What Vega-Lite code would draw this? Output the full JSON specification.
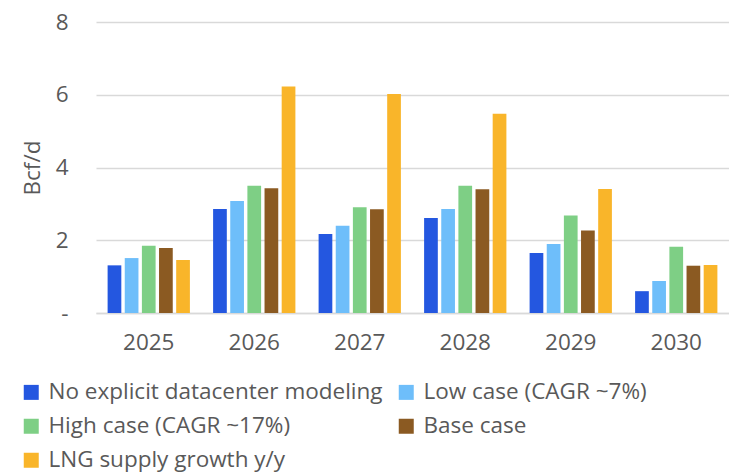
{
  "$schema": "https://vega.github.io/schema/vega-lite/v6.json",
  "width": 633,
  "height": 291,
  "autosize": "none",
  "padding": {"left": 96, "top": 22, "right": 0, "bottom": 160},
  "background": "white",
  "config": {
    "font": "Open Sans",
    "view": {"stroke": null},
    "axis": {"labelFont": "Open Sans", "titleFont": "Open Sans", "labelColor": "#595959", "titleColor": "#595959"}
  },
  "data": {
    "values": [
      {"year": "2025", "series": "No explicit datacenter modeling", "value": 1.31},
      {"year": "2025", "series": "Low case (CAGR ~7%)", "value": 1.51},
      {"year": "2025", "series": "High case (CAGR ~17%)", "value": 1.85},
      {"year": "2025", "series": "Base case", "value": 1.79},
      {"year": "2025", "series": "LNG supply growth y/y", "value": 1.46},
      {"year": "2026", "series": "No explicit datacenter modeling", "value": 2.86},
      {"year": "2026", "series": "Low case (CAGR ~7%)", "value": 3.08},
      {"year": "2026", "series": "High case (CAGR ~17%)", "value": 3.5},
      {"year": "2026", "series": "Base case", "value": 3.43},
      {"year": "2026", "series": "LNG supply growth y/y", "value": 6.23},
      {"year": "2027", "series": "No explicit datacenter modeling", "value": 2.17},
      {"year": "2027", "series": "Low case (CAGR ~7%)", "value": 2.4},
      {"year": "2027", "series": "High case (CAGR ~17%)", "value": 2.91},
      {"year": "2027", "series": "Base case", "value": 2.85},
      {"year": "2027", "series": "LNG supply growth y/y", "value": 6.02},
      {"year": "2028", "series": "No explicit datacenter modeling", "value": 2.61},
      {"year": "2028", "series": "Low case (CAGR ~7%)", "value": 2.86},
      {"year": "2028", "series": "High case (CAGR ~17%)", "value": 3.5},
      {"year": "2028", "series": "Base case", "value": 3.4},
      {"year": "2028", "series": "LNG supply growth y/y", "value": 5.48},
      {"year": "2029", "series": "No explicit datacenter modeling", "value": 1.65},
      {"year": "2029", "series": "Low case (CAGR ~7%)", "value": 1.9},
      {"year": "2029", "series": "High case (CAGR ~17%)", "value": 2.68},
      {"year": "2029", "series": "Base case", "value": 2.27},
      {"year": "2029", "series": "LNG supply growth y/y", "value": 3.41},
      {"year": "2030", "series": "No explicit datacenter modeling", "value": 0.6},
      {"year": "2030", "series": "Low case (CAGR ~7%)", "value": 0.88},
      {"year": "2030", "series": "High case (CAGR ~17%)", "value": 1.82},
      {"year": "2030", "series": "Base case", "value": 1.3},
      {"year": "2030", "series": "LNG supply growth y/y", "value": 1.32}
    ]
  },
  "mark": {"type": "bar"},
  "encoding": {
    "x": {
      "field": "year",
      "type": "nominal",
      "scale": {"paddingInner": 0.22, "paddingOuter": 0.11},
      "axis": {
        "title": null,
        "labelAngle": 0,
        "labelFontSize": 22.5,
        "labelPadding": 18,
        "ticks": false,
        "domain": true,
        "domainColor": "#d9d9d9",
        "domainWidth": 1.5
      }
    },
    "xOffset": {
      "field": "series",
      "type": "nominal",
      "sort": ["No explicit datacenter modeling", "Low case (CAGR ~7%)", "High case (CAGR ~17%)", "Base case", "LNG supply growth y/y"],
      "scale": {"paddingInner": 0.2}
    },
    "y": {
      "field": "value",
      "type": "quantitative",
      "scale": {"domain": [0, 8]},
      "axis": {
        "title": "Bcf/d",
        "titleFontSize": 22.5,
        "titleFontWeight": "normal",
        "titlePadding": 11,
        "values": [0, 2, 4, 6, 8],
        "labelExpr": "datum.value == 0 ? '-\u2007\u00a0' : datum.label",
        "labelFontSize": 22.5,
        "labelPadding": 28,
        "ticks": false,
        "domain": false,
        "grid": true,
        "gridColor": "#d9d9d9",
        "gridWidth": 1.5
      }
    },
    "color": {
      "field": "series",
      "type": "nominal",
      "sort": ["No explicit datacenter modeling", "Low case (CAGR ~7%)", "High case (CAGR ~17%)", "Base case", "LNG supply growth y/y"],
      "scale": {
        "domain": ["No explicit datacenter modeling", "Low case (CAGR ~7%)", "High case (CAGR ~17%)", "Base case", "LNG supply growth y/y"],
        "range": ["#2457E0", "#6EBEFA", "#7ECF85", "#8B5A22", "#F9B52A"]
      },
      "legend": {
        "title": null,
        "orient": "none",
        "legendX": -76,
        "legendY": 359,
        "direction": "horizontal",
        "columns": 2,
        "symbolType": "square",
        "symbolSize": 225,
        "symbolStrokeWidth": 0,
        "labelFont": "Open Sans",
        "labelFontSize": 22.5,
        "labelColor": "#595959",
        "labelLimit": 400,
        "labelOffset": 6,
        "rowPadding": 11,
        "columnPadding": 12
      }
    }
  }
}
